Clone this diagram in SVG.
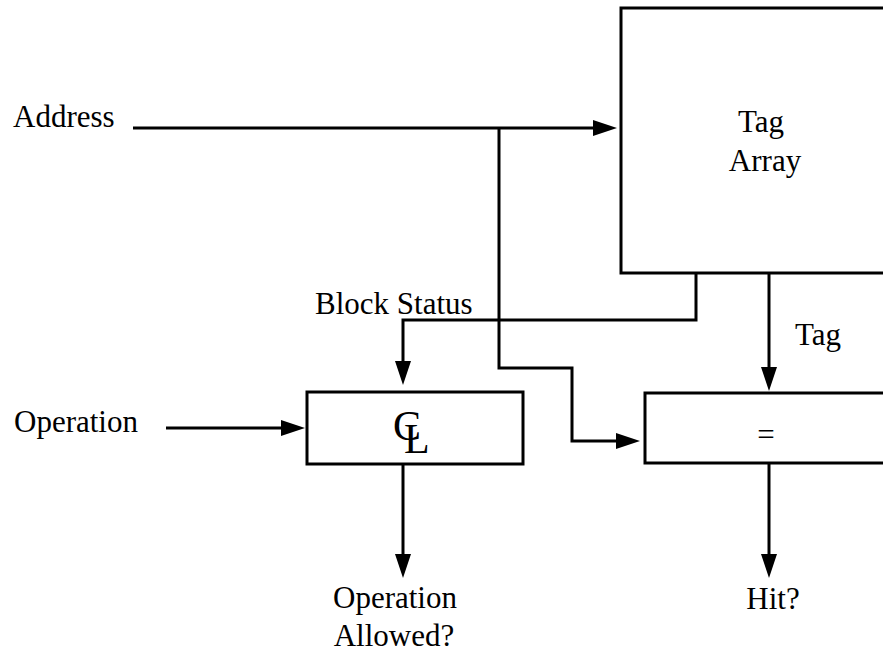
<svg xmlns="http://www.w3.org/2000/svg" width="883" height="654" viewBox="0 0 883 654">
  <style>
    .box { fill: #fff; stroke: #000; stroke-width: 3; }
    .wire { fill: none; stroke: #000; stroke-width: 3; marker-end: url(#arrow); }
    text { font-family: "Liberation Serif", "Times New Roman", serif; font-size: 31px; fill: #000; }
    .mid { text-anchor: middle; }
    .sym { font-size: 42px; }
  </style>
  <defs>
    <marker id="arrow" markerUnits="userSpaceOnUse" markerWidth="26" markerHeight="18" refX="16" refY="8" orient="auto">
      <path d="M0,0 L24,8 L0,16 Z" fill="#000"/>
    </marker>
  </defs>
  <rect width="883" height="654" fill="#fff"/>

  <!-- connectors -->
  <g id="connectors">
    <path class="wire" d="M133,128 H609"/>
    <path class="wire" d="M499,128 V368 H572 V441 H632"/>
    <path class="wire" d="M696,273 V320 H403 V377"/>
    <path class="wire" d="M769,273 V383"/>
    <path class="wire" d="M166,428 H297"/>
    <path class="wire" d="M403,464 V570"/>
    <path class="wire" d="M769,463 V570"/>
  </g>

  <!-- blocks -->
  <g id="tag-array">
    <rect class="box" x="621" y="8" width="300" height="265"/>
    <text class="mid" x="761" y="132">Tag</text>
    <text class="mid" x="765" y="171">Array</text>
  </g>
  <g id="control-logic">
    <rect class="box" x="307" y="392" width="216" height="72"/>
    <!-- centre-line style symbol: serif C and L overlapped -->
    <text class="sym" x="393" y="440">C<tspan dx="-17" dy="13">L</tspan></text>
  </g>
  <g id="comparator">
    <rect class="box" x="645" y="393" width="260" height="70"/>
    <text class="mid" x="766" y="445">=</text>
  </g>

  <!-- signal labels -->
  <g id="labels">
    <text x="13" y="127">Address</text>
    <text x="14" y="432">Operation</text>
    <text x="315" y="314">Block Status</text>
    <text x="795" y="345">Tag</text>
    <text class="mid" x="395" y="608">Operation</text>
    <text class="mid" x="394" y="646">Allowed?</text>
    <text class="mid" x="773" y="609">Hit?</text>
  </g>
</svg>
